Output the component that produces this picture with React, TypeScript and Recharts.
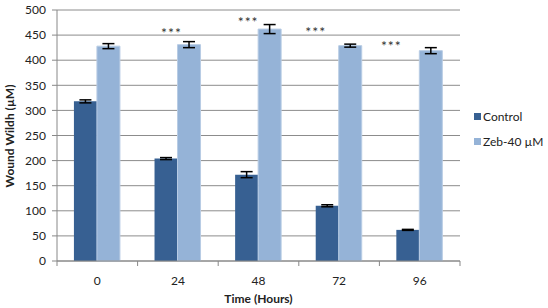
import React from 'react';
import { BarChart, Bar, XAxis, YAxis, CartesianGrid, ErrorBar, LabelList } from 'recharts';

const hours = ['0', '24', '48', '72', '96'];
const control = [318, 204, 172, 110, 62];
const controlErr = [3, 2, 6, 2, 1];
const zeb = [428, 431, 462, 429, 419];
const zebErr = [5, 6, 9, 3, 6];
const significance = ['', '***', '***', '***', '***'];
const yTicks = [0, 50, 100, 150, 200, 250, 300, 350, 400, 450, 500];

const data = hours.map((h, i) => ({
  hour: h,
  control: control[i],
  controlErr: controlErr[i],
  zeb: zeb[i],
  zebErr: zebErr[i],
  sig: significance[i],
}));

// where the *** marks sit, relative to the Zeb bar's left edge and top
const starShift = [[0, 0], [-6, -15], [-10, -10], [-23, -17], [-28, -8]];

const FONT = 'Lato, "Open Sans", sans-serif';
const DARK = '#376092';
const LIGHT = '#95b3d7';
const CAT_HALF = 40.3;

const XTick = (props: any) => {
  const { x, y, payload, index } = props;
  return (
    <g>
      <line x1={x - CAT_HALF} x2={x - CAT_HALF} y1={y} y2={y + 5} stroke="#888" />
      {index === hours.length - 1 && (
        <line x1={x + CAT_HALF} x2={x + CAT_HALF} y1={y} y2={y + 5} stroke="#888" />
      )}
      <text x={x} y={y + 24} textAnchor="middle" fontSize={12} fill="#222" fontFamily={FONT}>
        {payload.value}
      </text>
    </g>
  );
};

const Stars = (props: any) => {
  const { x, y, index, value } = props;
  if (!value) return null;
  const [dx, dy] = starShift[index] || [0, 0];
  return (
    <text x={x + dx} y={y + dy + 8} textAnchor="middle" fontSize={14} letterSpacing={1} fill="#333" fontFamily={FONT}>
      {value}
    </text>
  );
};

const YLabel = () => (
  <text
    x={0}
    y={0}
    transform="translate(14, 136) rotate(-90)"
    textAnchor="middle"
    fontSize={12}
    fontWeight="bold"
    fill="#222"
    fontFamily={FONT}
  >
    Wound Wildh (µM)
  </text>
);

const LegendBox = () => (
  <div
    style={{
      position: 'absolute',
      left: 474,
      top: 104,
      fontFamily: FONT,
      fontSize: 12,
      color: '#222',
      lineHeight: '25px',
    }}
  >
    {[['Control', DARK], ['Zeb-40 µM', LIGHT]].map(([name, color]) => (
      <div key={name} style={{ display: 'flex', alignItems: 'center' }}>
        <span style={{ display: 'inline-block', width: 7, height: 7, background: color, marginRight: 2 }} />
        {name}
      </div>
    ))}
  </div>
);

export default function App() {
  return (
    <div style={{ position: 'absolute', left: 0, top: 0, width: 548, height: 308, background: '#fff' }}>
      <BarChart
        width={548}
        height={308}
        data={data}
        margin={{ top: 10, right: 88, bottom: 0, left: 0 }}
        barCategoryGap="21%"
        barGap={0}
      >
        <CartesianGrid vertical={false} stroke="#8c8c8c" />
        <XAxis
          dataKey="hour"
          axisLine={{ stroke: '#888' }}
          tickLine={false}
          tickSize={0}
          tickMargin={0}
          tick={<XTick />}
          interval={0}
          height={47}
          label={{ value: 'Time (Hours)', position: 'insideBottom', offset: 5, fontSize: 12, fontWeight: 'bold', fill: '#222', fontFamily: FONT }}
        />
        <YAxis
          width={57}
          domain={[0, 500]}
          ticks={yTicks}
          interval={0}
          axisLine={{ stroke: '#888' }}
          tickLine={{ stroke: '#888' }}
          tickSize={5}
          tickMargin={6}
          tick={{ fontSize: 12, fill: '#222', fontFamily: FONT }}
          label={<YLabel />}
        />
        <Bar dataKey="control" name="Control" fill={DARK} isAnimationActive={false}>
          <ErrorBar dataKey="controlErr" width={6} stroke="#000" strokeWidth={1.5} />
        </Bar>
        <Bar dataKey="zeb" name="Zeb-40 µM" fill={LIGHT} stroke="#b8cce4" strokeWidth={1} isAnimationActive={false}>
          <ErrorBar dataKey="zebErr" width={6} stroke="#000" strokeWidth={1.5} />
          <LabelList dataKey="sig" content={<Stars />} />
        </Bar>
      </BarChart>
      <LegendBox />
    </div>
  );
}
